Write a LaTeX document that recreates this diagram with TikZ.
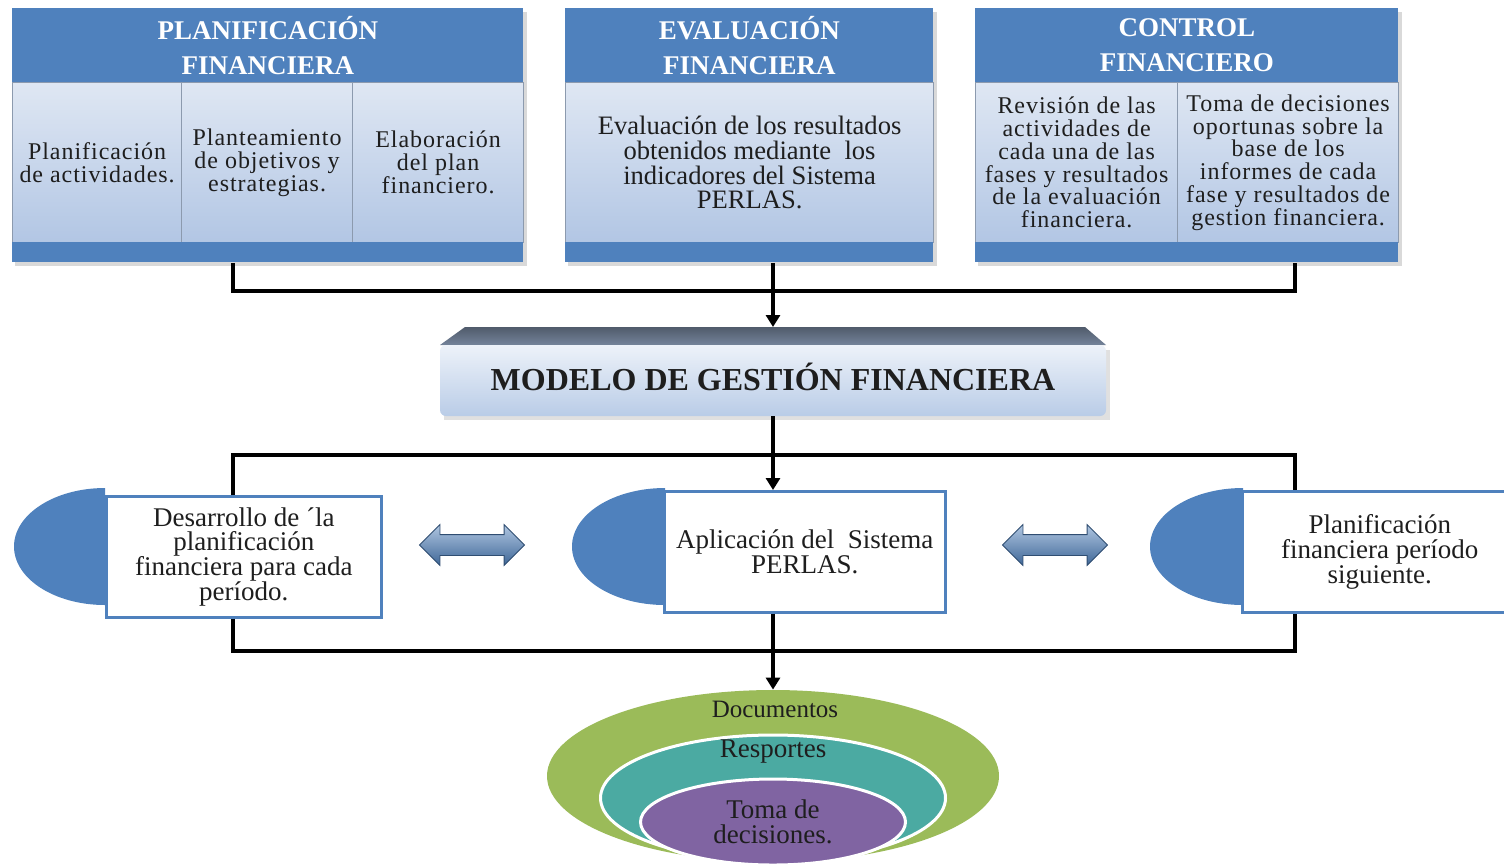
\documentclass[tikz,border=0pt]{standalone}
\usepackage{fontspec}
\setmainfont{Liberation Serif}
\usetikzlibrary{shapes.geometric,shapes.arrows,arrows.meta,calc}
\definecolor{hdrblue}{HTML}{4F81BD}
\definecolor{panelTop}{HTML}{DFE7F3}
\definecolor{panelBot}{HTML}{B2C6E4}
\definecolor{panelLine}{HTML}{8C9AAE}
\definecolor{bevelTop}{HTML}{505B6B}
\definecolor{bevelBot}{HTML}{74839A}
\definecolor{modTop}{HTML}{EDF2F9}
\definecolor{modBot}{HTML}{B9CCE7}
\definecolor{ringGreen}{HTML}{9BBB59}
\definecolor{ringTeal}{HTML}{4BAAA2}
\definecolor{ringPurple}{HTML}{8064A2}
\definecolor{inktext}{HTML}{1E1E1E}
\begin{document}
\begin{tikzpicture}[x=0.5pt,y=-0.5pt,
  hdr/.style={anchor=north west, fill=hdrblue, text=white, inner sep=0pt,
    minimum height=37pt, align=center,
    font=\bfseries\fontsize{13.5}{17.5}\selectfont},
  panel/.style={anchor=north west, top color=panelTop, bottom color=panelBot,
    draw=panelLine, line width=0.6pt, inner sep=0pt, minimum height=80pt,
    align=center, text=inktext,
    font=\fontsize{12}{11.4}\selectfont\addfontfeature{LetterSpace=4}},
  band/.style={anchor=north west, fill=hdrblue, inner sep=0pt, minimum height=10pt},
  link/.style={line width=2pt, black},
  arr/.style={link, -{Triangle[length=6pt,width=7pt]}},
  stepbox/.style={anchor=north west, draw=hdrblue, line width=1.3pt, fill=white,
    inner sep=0pt, minimum height=60.5pt, align=center, text=inktext,
    font=\fontsize{13.5}{12.4}\selectfont},
  halfcap/.style={fill=hdrblue},
  dblarrow/.style={shape=double arrow, double arrow head extend=5pt,
    minimum height=52.5pt, inner xsep=0pt, inner ysep=5pt,
    top color=hdrblue!45!white, bottom color=hdrblue!80!black,
    draw=hdrblue!60!black, line width=0.4pt},
  ring/.style={shape=ellipse, inner sep=0pt},
  ringtext/.style={text=inktext, align=center, font=\fontsize{13.5}{12.6}\selectfont}
]
\useasboundingbox (0,0) rectangle (1504,864);

% soft shadows behind the three top groups
\fill[black, opacity=0.15] (15,12) rectangle (527,266);
\fill[black, opacity=0.15] (568,12) rectangle (937,266);
\fill[black, opacity=0.15] (978,12) rectangle (1402,266);

% ---- Planificacion financiera ----
\node[hdr, minimum width=255.5pt] (h1) at (12,8) {PLANIFICACIÓN\\FINANCIERA};
\node[panel, minimum width=84.5pt] (p11) at (12,82) {Planificación\\de actividades.};
\node[panel, minimum width=85.5pt] (p12) at (181,82) {Planteamiento\\de objetivos y\\estrategias.};
\node[panel, minimum width=85.5pt] (p13) at (352,82) {Elaboración\\del plan\\financiero.};
\node[band, minimum width=255.5pt] (b1) at (12,242) {};

% ---- Evaluacion financiera ----
\node[hdr, minimum width=184pt] (h2) at (565,8) {EVALUACIÓN\\FINANCIERA};
\node[panel, minimum width=184pt, font=\fontsize{13.3}{12.4}\selectfont] (p21) at (565,82)
  {Evaluación de los resultados\\obtenidos mediante\ \ los\\indicadores del Sistema\\PERLAS.};
\node[band, minimum width=184pt] (b2) at (565,242) {};

% ---- Control financiero ----
\node[hdr, minimum width=211.5pt] (h3) at (975,8) {CONTROL\\FINANCIERO};
\node[panel, minimum width=101pt] (p31) at (975,82)
  {Revisión de las\\actividades de\\cada una de las\\fases y resultados\\de la evaluación\\financiera.};
\node[panel, minimum width=110.5pt] (p32) at (1177,82)
  {Toma de decisiones\\oportunas sobre la\\base de los\\informes de cada\\fase y resultados de\\gestion financiera.};
\node[band, minimum width=211.5pt] (b3) at (975,242) {};

% ---- central model box ----
\fill[black, opacity=0.12] (444,350) rectangle (1110,420);
\shade[top color=bevelTop, bottom color=bevelBot]
  (465,327) -- (1085,327) -- (1106,345) -- (440,345) -- cycle;
\coordinate (modtop) at (773,327);
\node[top color=modTop, bottom color=modBot, rounded corners=3pt, inner sep=0pt,
  minimum width=333pt, minimum height=35.5pt, text=inktext,
  font=\bfseries\fontsize{16}{18}\selectfont] (modelo) at (773,380.5)
  {\raisebox{4pt}{MODELO DE GESTIÓN FINANCIERA}};

% junction points of the bus lines
\coordinate (jt1) at (233,291);
\coordinate (jt3) at (1295,291);
\coordinate (jm1) at (233,455);
\coordinate (jm2) at (773,455);
\coordinate (jm3) at (1295,455);
\coordinate (jb1) at (233,651);
\coordinate (jb2) at (773,651);
\coordinate (jb3) at (1295,651);

% ---- process steps ----
\fill[halfcap] (105,488) arc[start angle=90, end angle=270, x radius=45.5pt, y radius=29.25pt] -- cycle;
\fill[halfcap] (665,488) arc[start angle=90, end angle=270, x radius=46.5pt, y radius=29.25pt] -- cycle;
\fill[halfcap] (1243,488) arc[start angle=90, end angle=270, x radius=46.5pt, y radius=29.25pt] -- cycle;

\node[stepbox, minimum width=137.5pt] (m1) at (105,495)
  {Desarrollo de ´la\\planificación\\financiera para cada\\período.};
\node[stepbox, minimum width=140.5pt] (m2) at (663,490)
  {Aplicación del\ \ Sistema\\PERLAS.};
\node[stepbox, minimum width=137.5pt] (m3) at (1241,490)
  {Planificación\\financiera período\\siguiente.};

\node[dblarrow] (da1) at (472,545) {};
\node[dblarrow] (da2) at (1055,545) {};

% ---- nested outputs ----
\node[ring, fill=ringGreen, minimum width=226pt, minimum height=86pt] (outer) at (773,776) {};
\node[ring, fill=ringTeal, draw=white, line width=1.5pt, minimum width=172.5pt, minimum height=63pt] (middle) at (773,798) {};
\node[ring, fill=ringPurple, draw=white, line width=1.5pt, minimum width=132.5pt, minimum height=43pt,
  ringtext] (inner) at (773,822) {Toma de\\decisiones.};
\node[ringtext, font=\fontsize{12.5}{13}\selectfont] (tdoc) at (775,709) {Documentos};
\node[ringtext] (trep) at (773,752) {Resportes};

% ---- connectors ----
\draw[link] (b1.south -| jt1) -- (jt1) -- (jt3) -- (b3.south -| jt3);
\draw[arr] (b2.south -| modtop) -- (modtop);
\draw[link] (modelo.south) -- (jm2);
\draw[link] (m1.north -| jm1) -- (jm1) -- (jm3) -- (m3.north -| jm3);
\draw[arr] (jm2) -- (m2.north -| jm2);
\draw[link] (m1.south -| jb1) -- (jb1) -- (jb3) -- (m3.south -| jb3);
\draw[arr] (m2.south -| jb2) -- (outer.north);
\end{tikzpicture}
\end{document}
